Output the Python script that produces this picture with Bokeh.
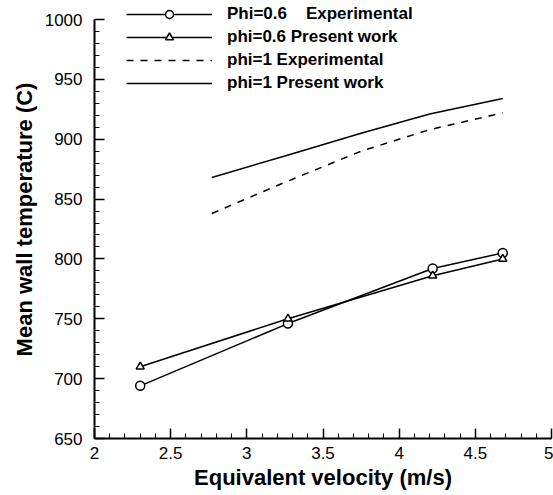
from bokeh.plotting import figure
from bokeh.models import Legend, LegendItem, SingleIntervalTicker, NumeralTickFormatter
from bokeh.embed import file_html
from bokeh.resources import INLINE

# ---- data ----
x_phi06 = [2.3, 3.27, 4.22, 4.68]
phi06_experimental = [694, 746, 792, 805]
phi06_present = [710, 750, 786, 800]

x_phi1 = [2.77, 3.25, 3.75, 4.2, 4.68]
phi1_experimental = [838, 864, 890, 908, 922]
phi1_present = [868, 886, 905, 921, 934]

# the first label has a wide gap in the reference (kept with non-breaking spaces)
series_labels = ["Phi=0.6\u00a0\u00a0\u00a0\u00a0Experimental", "phi=0.6 Present work",
                 "phi=1 Experimental", "phi=1 Present work"]
x_title = "Equivalent velocity (m/s)"
y_title = "Mean wall temperature (C)"

FONT = "Liberation Sans"
Y_MIN, Y_MAX = 650, 1000
# the frame reaches the top of the page so that the legend above the axis top is not clipped
Y_VIEW_TOP = Y_MAX + 19 * (Y_MAX - Y_MIN) / 419

p = figure(width=553, height=495, x_range=(2, 5), y_range=(Y_MIN, Y_VIEW_TOP),
           output_backend="svg", toolbar_location=None,
           min_border_left=94, min_border_right=2,
           min_border_top=0, min_border_bottom=57)
p.outline_line_color = None
p.xgrid.visible = False
p.ygrid.visible = False
p.background_fill_color = "white"
p.border_fill_color = "white"

p.xaxis.ticker = SingleIntervalTicker(interval=0.5, num_minor_ticks=5)
p.yaxis.ticker = SingleIntervalTicker(interval=50, num_minor_ticks=5)
p.xaxis.formatter = NumeralTickFormatter(format="0.[0]")
p.yaxis.formatter = NumeralTickFormatter(format="0")
p.yaxis.bounds = (Y_MIN, Y_MAX)

for ax in (p.xaxis, p.yaxis):
    ax.axis_line_color = "black"
    ax.axis_line_width = 2
    ax.major_tick_line_color = "black"
    ax.minor_tick_line_color = "black"
    ax.major_tick_line_width = 1.5
    ax.minor_tick_line_width = 1
    ax.major_tick_in = 10
    ax.major_tick_out = 0
    ax.minor_tick_in = 5
    ax.minor_tick_out = 0
    ax.major_label_text_font = FONT
    ax.major_label_text_font_size = "17px"
    ax.major_label_text_color = "black"
    ax.axis_label_text_font = FONT
    ax.axis_label_text_font_size = "22px"
    ax.axis_label_text_font_style = "bold"
    ax.axis_label_text_color = "black"

p.xaxis.axis_label = x_title
p.yaxis.axis_label = y_title
p.xaxis.major_label_standoff = 8
p.xaxis.axis_label_standoff = 3
p.yaxis.major_label_standoff = 12
p.yaxis.axis_label_standoff = 5

# ---- glyphs ----
r1l = p.line(x_phi06, phi06_experimental, line_color="black", line_width=1.5)
r1m = p.scatter(x_phi06, phi06_experimental, marker="circle", size=9,
                fill_color="white", line_color="black", line_width=1.5)
r2l = p.line(x_phi06, phi06_present, line_color="black", line_width=1.5)
r2m = p.scatter(x_phi06, phi06_present, marker="triangle", size=8,
                fill_color="white", line_color="black", line_width=1.5)
r3 = p.line(x_phi1, phi1_experimental, line_color="black", line_width=1.5,
            line_dash="7 7")
r4 = p.line(x_phi1, phi1_present, line_color="black", line_width=1.5)

legend = Legend(items=[
    LegendItem(label=series_labels[0], renderers=[r1l, r1m]),
    LegendItem(label=series_labels[1], renderers=[r2l, r2m]),
    LegendItem(label=series_labels[2], renderers=[r3]),
    LegendItem(label=series_labels[3], renderers=[r4]),
], location=(32, 345), glyph_width=86, glyph_height=20, label_height=20,
    spacing=3, padding=0, margin=0, label_standoff=15,
    label_text_font=FONT, label_text_font_style="bold",
    label_text_font_size="17px", label_text_color="black",
    background_fill_alpha=0, border_line_alpha=0)
p.add_layout(legend)

open("out.html", "w").write(file_html(p, INLINE))
